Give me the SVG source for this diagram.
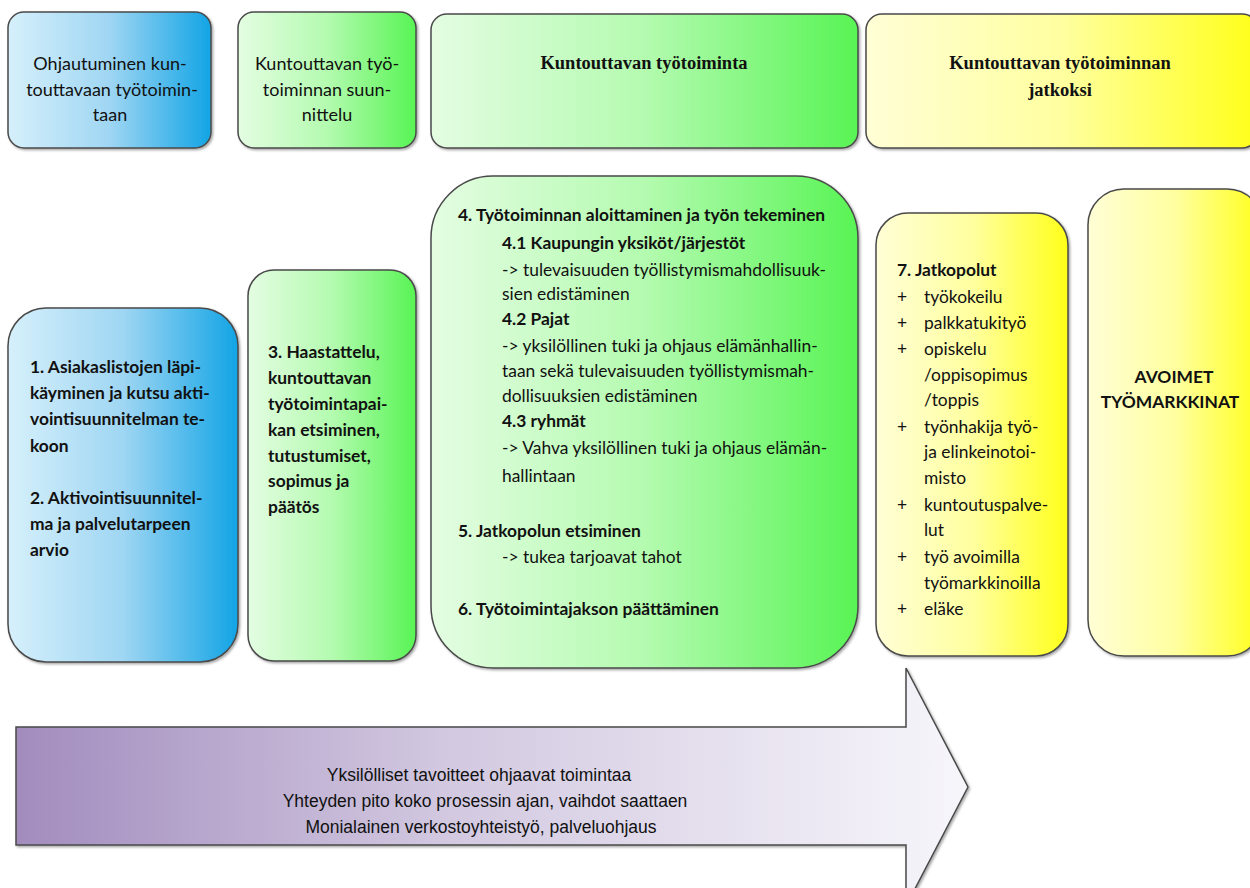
<svg xmlns="http://www.w3.org/2000/svg" width="1250" height="888" viewBox="0 0 1250 888">
<defs>
<linearGradient id="gBlue" x1="0" y1="0" x2="1" y2="0"><stop offset="0" stop-color="#d6f0fb"/><stop offset="0.5" stop-color="#9fd6f3"/><stop offset="1" stop-color="#12a4e5"/></linearGradient>
<linearGradient id="gGreen" x1="0" y1="0" x2="1" y2="0"><stop offset="0" stop-color="#e4fde2"/><stop offset="0.5" stop-color="#b4fbb0"/><stop offset="1" stop-color="#58f454"/></linearGradient>
<linearGradient id="gYellow" x1="0" y1="0" x2="1" y2="0"><stop offset="0" stop-color="#fffed6"/><stop offset="0.5" stop-color="#ffffa0"/><stop offset="1" stop-color="#ffff1a"/></linearGradient>
<linearGradient id="gArrow" x1="0" y1="0" x2="1" y2="0"><stop offset="0" stop-color="#a28cbe"/><stop offset="0.45" stop-color="#d2c8e0"/><stop offset="1" stop-color="#f7f6fb"/></linearGradient>
<filter id="sh" x="-5%" y="-5%" width="110%" height="110%"><feDropShadow dx="1.5" dy="1.5" stdDeviation="1" flood-color="#000" flood-opacity="0.35"/></filter>
<style>
.box{stroke:#4a4a4a;stroke-width:1.5;filter:url(#sh)}
.t{font-family:Lato,"Liberation Sans",sans-serif;font-size:17.4px;fill:#111}
.b{font-weight:bold}
.h{font-family:Lato,"Liberation Sans",sans-serif;font-size:18px;fill:#111;text-anchor:middle}
.s{font-family:"Liberation Serif","Times New Roman",serif;font-size:18.5px;font-weight:bold;fill:#111;text-anchor:middle}
.a{font-family:"Liberation Sans Narrow","Liberation Sans",sans-serif;font-size:17.5px;fill:#111;text-anchor:middle}
</style>
</defs>
<rect width="1250" height="888" fill="#fff"/>

<g id="head1"><rect class="box" x="8" y="12" width="203" height="136" rx="16" fill="url(#gBlue)"/>
<text class="h" x="110" y="70">Ohjautuminen kun-</text><text class="h" x="112" y="96">touttavaan työtoimin-</text><text class="h" x="110" y="121">taan</text></g>

<g id="head2"><rect class="box" x="238" y="12" width="178" height="136" rx="16" fill="url(#gGreen)"/>
<text class="h" x="327" y="70">Kuntouttavan työ-</text><text class="h" x="327" y="96">toiminnan suun-</text><text class="h" x="327" y="121">nittelu</text></g>

<g id="head3"><rect class="box" x="431" y="14" width="427" height="134" rx="16" fill="url(#gGreen)"/>
<text class="s" x="644" y="69">Kuntouttavan työtoiminta</text></g>

<g id="head4"><rect class="box" x="866" y="14" width="392" height="134" rx="16" fill="url(#gYellow)"/>
<text class="s" x="1060" y="69">Kuntouttavan työtoiminnan</text><text class="s" x="1060" y="96">jatkoksi</text></g>

<g id="step12"><rect class="box" x="8" y="308" width="230" height="354" rx="38" fill="url(#gBlue)"/>
<g class="t b">
<text x="30" y="373">1.  Asiakaslistojen läpi-</text>
<text x="30" y="399">käyminen ja kutsu akti-</text>
<text x="30" y="425">vointisuunnitelman te-</text>
<text x="30" y="452">koon</text>
<text x="30" y="504">2. Aktivointisuunnitel-</text>
<text x="30" y="530">ma ja palvelutarpeen</text>
<text x="30" y="556">arvio</text></g></g>

<g id="step3"><rect class="box" x="248" y="270" width="168" height="391" rx="26" fill="url(#gGreen)"/>
<g class="t b">
<text x="268" y="358">3. Haastattelu,</text>
<text x="268" y="384">kuntouttavan</text>
<text x="268" y="410">työtoimintapai-</text>
<text x="268" y="436">kan etsiminen,</text>
<text x="268" y="462">tutustumiset,</text>
<text x="268" y="487">sopimus ja</text>
<text x="268" y="513">päätös</text></g></g>

<g id="step456"><rect class="box" x="431" y="176" width="427" height="492" rx="62" fill="url(#gGreen)"/>
<g class="t">
<text class="b" x="458" y="221">4. Työtoiminnan aloittaminen ja työn tekeminen</text>
<text class="b" x="502" y="249">4.1 Kaupungin yksiköt/järjestöt</text>
<text x="502" y="276">-&gt; tulevaisuuden työllistymismahdollisuuk-</text>
<text x="502" y="300">sien edistäminen</text>
<text class="b" x="502" y="325">4.2 Pajat</text>
<text x="502" y="352">-&gt; yksilöllinen tuki ja ohjaus elämänhallin-</text>
<text x="502" y="377">taan sekä tulevaisuuden työllistymismah-</text>
<text x="502" y="402">dollisuuksien edistäminen</text>
<text class="b" x="502" y="427">4.3 ryhmät</text>
<text x="502" y="454">-&gt; Vahva yksilöllinen tuki ja ohjaus elämän-</text>
<text x="502" y="482">hallintaan</text>
<text class="b" x="458" y="537">5. Jatkopolun etsiminen</text>
<text x="502" y="563">-&gt; tukea tarjoavat tahot</text>
<text class="b" x="458" y="615">6. Työtoimintajakson päättäminen</text></g></g>

<g id="step7"><rect class="box" x="876" y="213" width="192" height="443" rx="32" fill="url(#gYellow)"/>
<g class="t">
<text class="b" x="897" y="276">7. Jatkopolut</text>
<text x="897" y="303">+</text><text x="924" y="303">työkokeilu</text>
<text x="897" y="329">+</text><text x="924" y="329">palkkatukityö</text>
<text x="897" y="355">+</text><text x="924" y="355">opiskelu</text>
<text x="924" y="381">/oppisopimus</text>
<text x="924" y="406">/toppis</text>
<text x="897" y="433">+</text><text x="924" y="433">työnhakija työ-</text>
<text x="924" y="458">ja elinkeinotoi-</text>
<text x="924" y="484">misto</text>
<text x="897" y="511">+</text><text x="924" y="511">kuntoutuspalve-</text>
<text x="924" y="536">lut</text>
<text x="897" y="563">+</text><text x="924" y="563">työ avoimilla</text>
<text x="924" y="589">työmarkkinoilla</text>
<text x="897" y="615">+</text><text x="924" y="615">eläke</text></g></g>

<g id="avoimet"><rect class="box" x="1088" y="189" width="175" height="467" rx="36" fill="url(#gYellow)"/>
<g class="t b" text-anchor="middle">
<text x="1174" y="383">AVOIMET</text>
<text x="1170" y="408">TYÖMARKKINAT</text></g></g>

<g id="connectors">
<path class="box" d="M16 727 H906 V668 L968 787 L906 906 V845 H16 Z" fill="url(#gArrow)" stroke="#3b4566"/>
<text class="a" x="479" y="781">Yksilölliset tavoitteet ohjaavat toimintaa</text>
<text class="a" x="485" y="807">Yhteyden pito koko prosessin ajan, vaihdot saattaen</text>
<text class="a" x="481" y="833">Monialainen verkostoyhteistyö, palveluohjaus</text>
</g>
</svg>
